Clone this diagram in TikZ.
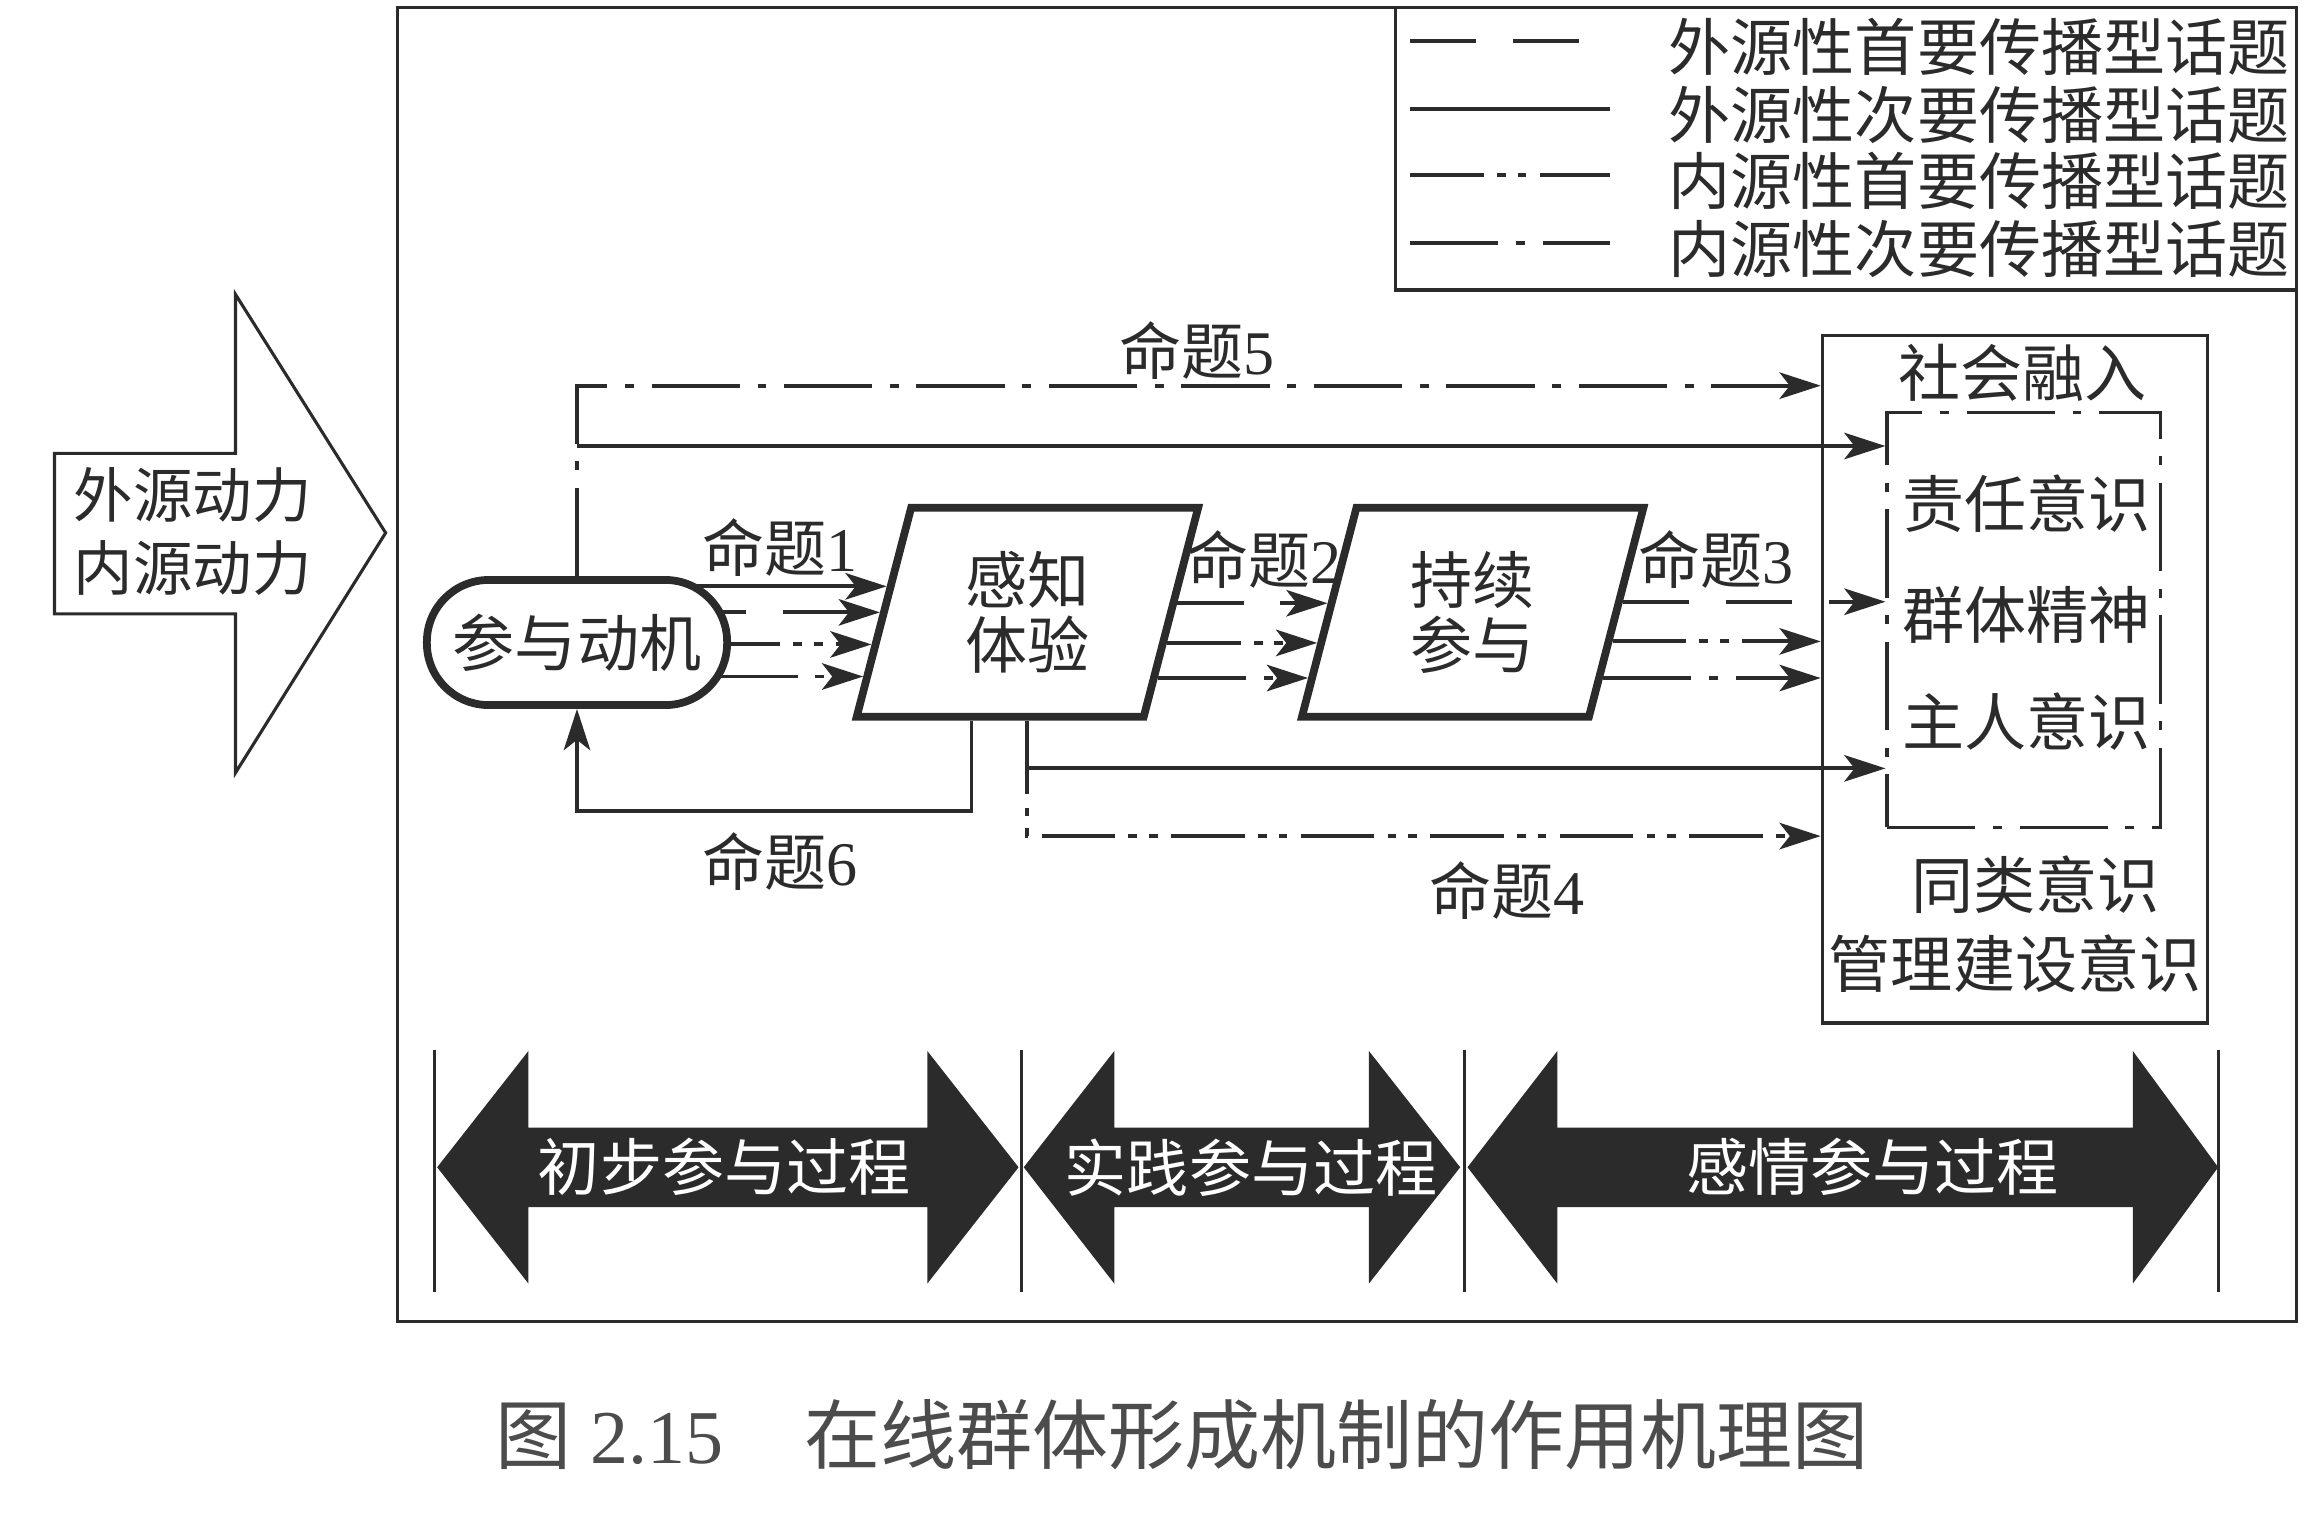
\documentclass[tikz,border=0pt]{standalone}
\usepackage{fontspec}
\setmainfont{Liberation Serif}
\newfontfamily\cjk{Noto Sans CJK SC}
\usetikzlibrary{arrows.meta, calc, backgrounds, shapes.geometric}
\definecolor{ink}{HTML}{2B2B2B}
\newcommand{\mingti}[1]{命题{\rmfamily #1}}

\tikzset{
  conn/.style={ink, line width=0.75pt, -{Stealth[length=2.8mm,width=1.8mm,inset=0.7mm]}},
  extpri/.style={dash pattern=on 4.5mm off 2.5mm},
  extsec/.style={solid},
  intpri/.style={dash pattern=on 5mm off 0.9mm on 0.6mm off 0.8mm on 0.6mm off 0.9mm},
  intsec/.style={dash pattern=on 6mm off 1.2mm on 0.6mm off 1.2mm},
  frame/.style={ink, line width=0.6pt},
  txt/.style={font=\cjk\fontsize{12}{13}\selectfont, text=ink, inner sep=0pt},
  stage/.style={txt, draw=ink, fill=white, line width=1.5pt, trapezium,
    trapezium left angle=66, trapezium right angle=114, trapezium stretches body,
    minimum width=23.2mm, minimum height=14.2mm, align=center,
    font=\cjk\fontsize{12}{12.6}\selectfont},
}

\begin{document}
\begin{tikzpicture}[x=0.1mm, y=-0.1mm]
  \useasboundingbox (0,0) rectangle (1568,1046);

  % frames
  \draw[frame] (270,5) rectangle (1560,898);
  \draw[frame] (948,5) rectangle (1560,197);

  % legend
  \foreach \sty/\yy/\lbl [count=\i] in {extpri/32/外源性首要传播型话题, extsec/78/外源性次要传播型话题,
      intpri/123/内源性首要传播型话题, intsec/169/内源性次要传播型话题}{
    \draw[\sty, ink, line width=0.8pt] (958,\yy-4) -- (1094,\yy-4);
    \node[txt, anchor=west] (leg\i) at (1133,\yy) {\lbl};
  }

  % driving force
  \draw[frame] (37,308) -- (160,308) -- (160,200) -- (262,362) -- (160,525) -- (160,417) -- (37,417) -- cycle;
  \node[txt, align=center, font=\cjk\fontsize{11.5}{14}\selectfont] (src) at (131,361) {外源动力\\内源动力};

  % stages
  \node[txt, draw=ink, fill=white, line width=1.5pt, rounded corners=4.2mm,
        minimum width=20.4mm, minimum height=8.5mm] (mot) at (392,436.5) {参与动机};
  \node[stage] (p1) at (698,416) {感知\\体验};
  \node[stage] (p2) at (1000.5,416) {持续\\参与};

  % social integration
  \node[frame, draw, minimum width=26.2mm, minimum height=46.7mm, inner sep=0pt] (soc) at (1369,461.5) {};
  \node[txt] (soct) at (1374,253) {社会融入};
  \node[draw=ink, line width=0.6pt, intsec, minimum width=18.6mm, minimum height=28.2mm,
        inner sep=0pt] (inn) at (1375,421) {};
  \node[txt] (i1) at (1377,342) {责任意识};
  \node[txt] (i2) at (1377,418) {群体精神};
  \node[txt] (i3) at (1377,490) {主人意识};
  \node[txt] (o1) at (1383,601) {同类意识};
  \node[txt] (o2) at (1369,655) {管理建设意识};

  % labels
  \node[txt] (m1) at (530,372) {\mingti{1}};
  \node[txt] (m2) at (859,380) {\mingti{2}};
  \node[txt] (m3) at (1166,380) {\mingti{3}};
  \node[txt] (m4) at (1024,605) {\mingti{4}};
  \node[txt] (m5) at (813,238) {\mingti{5}};
  \node[txt] (m6) at (530,585) {\mingti{6}};

  % connectors
  \begin{scope}[on background layer]
    \foreach \sty/\t [count=\i] in {extsec/0.62, extpri/0.5, intpri/0.352, intsec/0.204}{
      \coordinate (e1\i) at ($(p1.bottom left corner)!\t!(p1.top left corner)$);
      \draw[conn, \sty] (mot.center |- e1\i) -- (e1\i);
    }
  \end{scope}
  \foreach \sty/\t [count=\i] in {extpri/0.542, intpri/0.359, intsec/0.197}{
    \coordinate (s2\i) at ($(p1.bottom right corner)!\t!(p1.top right corner)$);
    \coordinate (e2\i) at ($(p2.bottom left corner)!\t!(p2.top left corner)$);
    \draw[conn, \sty] (s2\i) -- (e2\i);
  }
  \foreach \sty/\t/\dst [count=\i] in {extpri/0.549/inn, intpri/0.366/soc, intsec/0.197/soc}{
    \coordinate (s3\i) at ($(p2.bottom right corner)!\t!(p2.top right corner)$);
    \draw[conn, \sty] (s3\i) -- (\dst.west |- s3\i);
  }
  \coordinate (lv5) at (0,262);
  \coordinate (lvs) at (0,303);
  \coordinate (lv4) at (0,522);
  \coordinate (lv4b) at (0,568);
  \coordinate (lv6) at (0,551);
  \draw[conn, intsec] (mot.north) |- (soc.west |- lv5);
  \coordinate (j5) at (mot.north |- lvs);
  \draw[conn] (j5) -- (inn.west |- lvs);
  \draw[conn] (p1.south) |- (inn.west |- lv4);
  \draw[conn, intpri] (p1.south) |- (soc.west |- lv4b);
  \draw[conn] ([xshift=-3.8mm]p1.south) |- (mot.south |- lv6) -- (mot.south);

  % process arrows
  \foreach \xa/\xb/\xc/\xd/\lx/\lbl [count=\i] in {297/359/630/692/492/初步参与过程,
      695.5/757/930/992/850/实践参与过程, 997/1058/1449/1507/1272/感情参与过程}{
    \fill[ink] (\xa,793) -- (\xb,714) -- (\xb,766) -- (\xc,766) -- (\xc,714) -- (\xd,793)
      -- (\xc,872) -- (\xc,820) -- (\xb,820) -- (\xb,872) -- cycle;
    \node[txt, text=white] (ph\i) at (\lx,793) {\lbl};
  }
  \foreach \xx in {295,694,995,1507} \draw[ink, line width=0.5pt] (\xx,713) -- (\xx,878);

  % caption
  \node[txt, text=black!70, font=\cjk\fontsize{14.7}{16}\selectfont] (cap) at (803,975)
    {图\hspace{1.3mm}{\rmfamily 2.15}\hspace{5.5mm}在线群体形成机制的作用机理图};
\end{tikzpicture}
\end{document}
